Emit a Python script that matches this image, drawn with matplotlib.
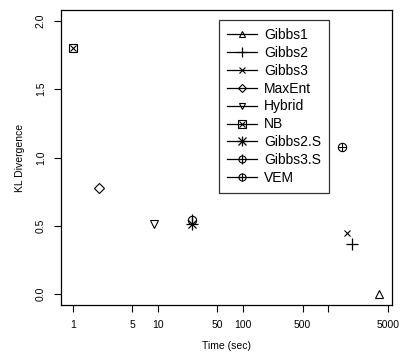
import matplotlib
matplotlib.use("Agg")
import matplotlib.pyplot as plt
from matplotlib.lines import Line2D
from matplotlib.legend_handler import HandlerTuple

plt.rcParams['font.family'] = ['Liberation Sans', 'DejaVu Sans']

# runtime (sec) and KL divergence for each method
methods = ['Gibbs1', 'Gibbs2', 'Gibbs3', 'MaxEnt', 'Hybrid', 'NB', 'Gibbs2.S', 'Gibbs3.S', 'VEM']
times = [4000, 1920, 1680, 2.0, 9.0, 1.0, 25, 25, 1450]
kl = [0.0, 0.365, 0.445, 0.78, 0.51, 1.80, 0.515, 0.54, 1.08]

xticks = [1, 5, 10, 50, 100, 500, 1000, 5000]
xticklabels = ['1', '5', '10', '50', '100', '500', '', '5000']
yticks = [0.0, 0.5, 1.0, 1.5, 2.0]

# marker layers per method (R-like plotting symbols)
symbols = {
    'Gibbs1': [('^', 5.5, 0.8)],
    'Gibbs2': [('+', 9, 0.9)],
    'Gibbs3': [('x', 5, 0.8)],
    'MaxEnt': [('D', 5, 0.8)],
    'Hybrid': [('v', 5.5, 0.8)],
    'NB': [('s', 6, 0.8), ('x', 4.5, 0.8)],
    'Gibbs2.S': [('+', 8, 0.9), ('x', 6, 0.9)],
    'Gibbs3.S': [('o', 6, 0.8), ('|', 8, 0.9)],
    'VEM': [('o', 6, 0.8), ('+', 6, 0.8)],
}

fig = plt.figure(figsize=(4.07, 3.56), dpi=100)
ax = fig.add_axes([0.150, 0.143, 0.813, 0.829])

handles = []
for name, t, k in zip(methods, times, kl):
    layers = []
    for i, (m, s, lw) in enumerate(symbols[name]):
        ax.plot([t], [k], marker=m, markersize=s, markerfacecolor='none',
                markeredgecolor='black', markeredgewidth=lw, linestyle='none')
        layers.append(Line2D([], [], color='black', lw=0.9 if i == 0 else 0,
                             marker=m, markersize=s * 0.85, markerfacecolor='none',
                             markeredgecolor='black', markeredgewidth=lw))
    handles.append(tuple(layers))

ax.set_xscale('log')
ax.set_xlim(0.724, 5620)
ax.set_ylim(-0.08, 2.08)
ax.set_xticks(xticks)
ax.set_xticklabels(xticklabels)
ax.minorticks_off()
ax.set_yticks(yticks)
ax.set_yticklabels(['0.0', '0.5', '1.0', '1.5', '2.0'], rotation=90, va='center')
ax.tick_params(labelsize=7.5, length=5, width=0.8, direction='out')
ax.tick_params(axis='y', pad=6)
ax.tick_params(axis='x', pad=5.5)
for sp in ax.spines.values():
    sp.set_linewidth(0.9)

ax.set_xlabel('Time (sec)', fontsize=7.5, labelpad=8)
ax.set_ylabel('KL Divergence', fontsize=7.5, labelpad=8)

leg = ax.legend(handles, methods, handler_map={tuple: HandlerTuple(ndivide=1, pad=0)},
                loc='upper left', bbox_to_anchor=(0.478, 0.965), fontsize=10,
                frameon=True, fancybox=False, edgecolor='black',
                handlelength=2.2, handletextpad=0.5, labelspacing=0.28,
                borderpad=0.55, borderaxespad=0)
leg.get_frame().set_linewidth(0.9)

fig.savefig('out.png', dpi=100)
